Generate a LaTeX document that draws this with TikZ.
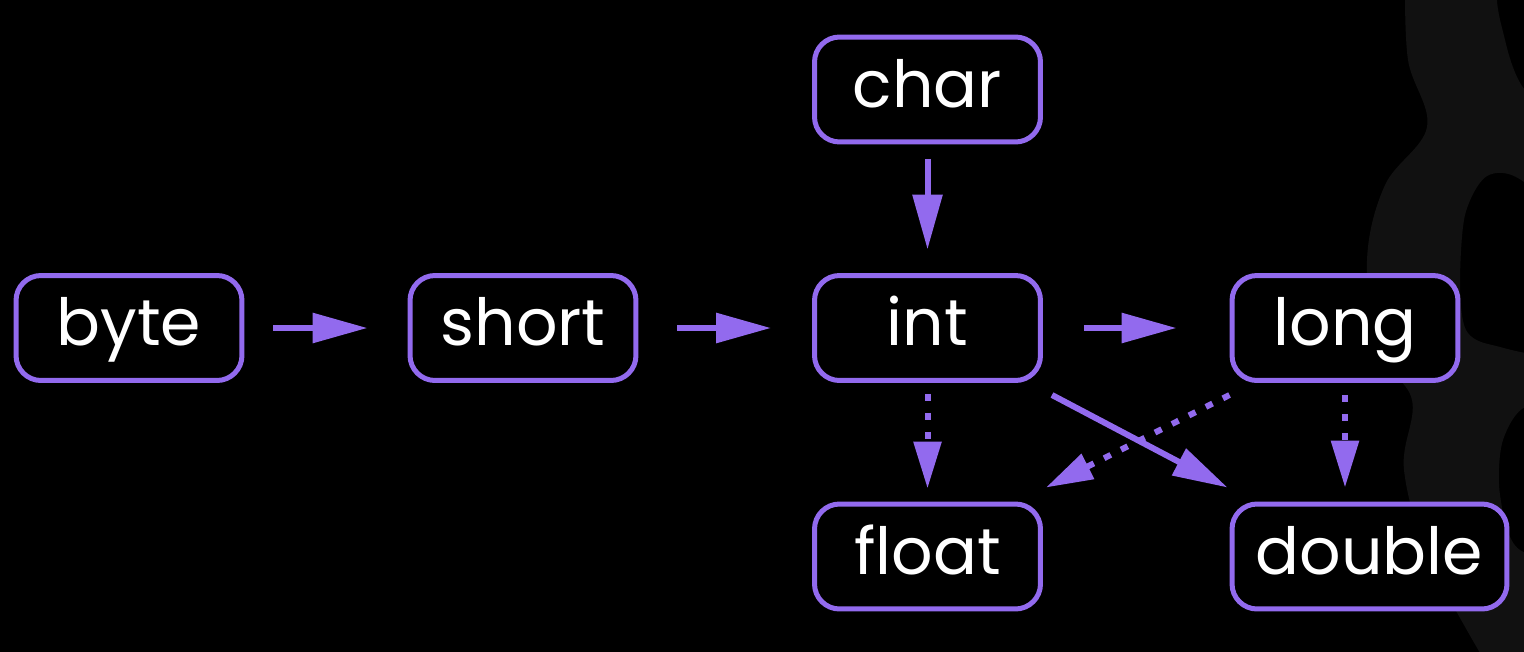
\documentclass[tikz,border=0pt]{standalone}
\usepackage{fontspec}
\setmainfont{Poppins}
\usetikzlibrary{arrows.meta}
\definecolor{typepurple}{RGB}{146,106,238}
\definecolor{ghostgray}{RGB}{17,17,17}

\begin{document}
\begin{tikzpicture}[x=0.02cm, y=-0.02cm,
    type/.style={draw=typepurple, line width=0.1cm, fill=black, rounded corners=0.5cm,
        minimum width=4.52cm, minimum height=2.1cm, inner sep=0pt,
        text=white, font=\fontsize{37pt}{44pt}\selectfont, text height=0.72cm, text depth=0pt},
    widening/.style={typepurple, line width=0.12cm, -{Triangle[length=1.1cm, width=0.58cm]}},
    lossy/.style={typepurple, line width=0.12cm, -{Triangle[length=0.94cm, width=0.54cm]}, dash pattern=on 0.15cm off 0.23cm}]

            \useasboundingbox (0,0) rectangle (1524,652);
            \fill[black] (0,0) rectangle (1524,652);

            % faint backdrop glyph on the right edge
            \begin{scope}
                \clip (0,0) rectangle (1524,652);
                \fill[ghostgray, even odd rule]
                    plot[smooth, tension=0.6] coordinates {(1405,-20) (1408,60) (1427,127) (1385,185) (1367,260) (1378,350) (1412,400) (1404,470) (1430,560) (1490,670)}
                    -- (1620,670) -- (1620,-20) -- cycle
                    plot[smooth cycle] coordinates {(1503,-20) (1505,40) (1530,95) (1600,110) (1600,-20)}
                    plot[smooth cycle] coordinates {(1524,182) (1487,176) (1465,215) (1460,285) (1466,330) (1492,345) (1560,350) (1600,260)}
                    plot[smooth cycle] coordinates {(1530,405) (1503,440) (1500,495) (1520,550) (1600,560) (1600,420)};
            \end{scope}

            \node[type] (byte)  at (129,328)   {byte};
            \node[type] (short) at (523,328)   {short};
            \node[type] (int)   at (927.5,328) {int};
            \node[type] (long)  at (1345,328)  {long};
            \node[type] (char)  at (927.5,89.5) {char};
            \node[type] (float) at (927.5,556.5) {float};
            \node[type, minimum width=5.5cm] (double) at (1369.5,556.5) {double};

            \draw[widening, shorten <=0.58cm, shorten >=0.8cm]  (byte)  -- (short);
            \draw[widening, shorten <=0.78cm, shorten >=0.82cm] (short) -- (int);
            \draw[widening, shorten <=0.82cm, shorten >=1.06cm] (int)   -- (long);
            \draw[widening, shorten <=0.29cm, shorten >=0.47cm] (char)  -- (int);

            \draw[lossy, shorten <=0.22cm, shorten >=0.26cm] (int)  -- (float);
            \draw[lossy, shorten <=0.24cm, shorten >=0.28cm] (long) -- (long |- double.north);

            \draw[widening] ([xshift=0.18cm, yshift=-0.24cm]int.south east) -- ([xshift=-0.04cm, yshift=0.28cm]double.north west);
            \draw[lossy] ([yshift=-0.24cm]long.south west) -- ([xshift=0.06cm, yshift=0.28cm]float.north east);
\end{tikzpicture}
\end{document}
